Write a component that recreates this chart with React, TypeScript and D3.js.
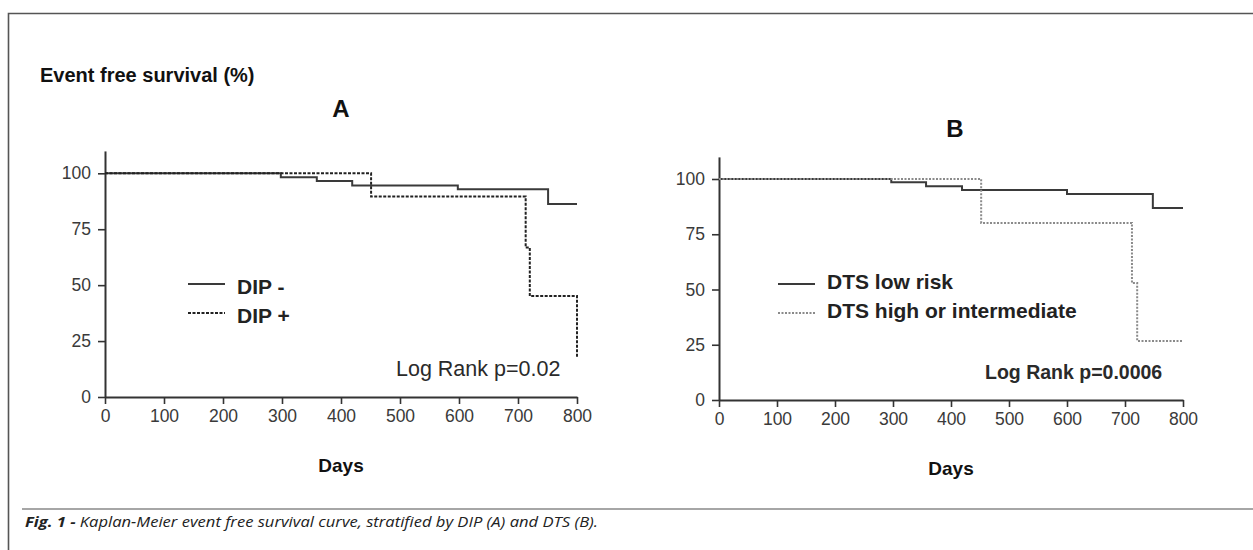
import React from "react";
import * as d3 from "d3";

// x / y ticks shared by both panels
const dayTicks = [0, 100, 200, 300, 400, 500, 600, 700, 800];
const survTicks = [0, 25, 50, 75, 100];

// panel A - DIP
const dipNegTime = [0, 298, 359, 419, 598, 751, 800];
const dipNegSurv = [100, 98.2, 96.6, 94.5, 92.9, 86.3, 86.3];
const dipPosTime = [0, 451, 713, 720, 800];
const dipPosSurv = [100, 89.6, 66.8, 45.1, 18];

// panel B - DTS
const dtsLowTime = [0, 297, 357, 419, 600, 748, 800];
const dtsLowSurv = [100, 98.5, 96.7, 95, 93.2, 86.9, 86.9];
const dtsHighTime = [0, 452, 712, 721, 800];
const dtsHighSurv = [100, 80.1, 52.9, 26.7, 26.7];

const FONT = "'Liberation Sans', Arial, Helvetica, sans-serif";

function drawPanel(svg, p) {
  const x = d3.scaleLinear().domain([0, 800]).range([p.x0, p.x1]);
  const y = d3.scaleLinear().domain([0, 110]).range([p.y0, p.y0 - p.pxPer100 * 1.1]);

  const g = svg.append("g");

  // y axis
  const yAxis = g.append("g")
    .attr("transform", `translate(${p.x0},0)`)
    .call(d3.axisLeft(y).tickValues(survTicks).tickSize(7).tickPadding(7).tickSizeOuter(0));
  // x axis
  const xAxis = g.append("g")
    .attr("transform", `translate(0,${p.y0})`)
    .call(d3.axisBottom(x).tickValues(dayTicks).tickSize(7).tickPadding(6).tickSizeOuter(0));

  [yAxis, xAxis].forEach(a => {
    a.select(".domain").attr("stroke", "#333").attr("stroke-width", 2);
    a.selectAll(".tick line").attr("stroke", "#333").attr("stroke-width", 1.6);
    a.selectAll(".tick text")
      .attr("fill", "#3a3a3a")
      .style("font-family", FONT)
      .style("font-size", "17.5px");
  });

  const line = d3.line()
    .x(d => x(d[0]))
    .y(d => y(d[1]))
    .curve(d3.curveStepAfter);

  p.series.forEach(s => {
    const pts = s.time.map((t, i) => [t, s.surv[i]]);
    g.append("path")
      .datum(pts)
      .attr("fill", "none")
      .attr("stroke", s.color)
      .attr("stroke-width", 2)
      .attr("stroke-dasharray", s.dash || null)
      .attr("d", line);
  });

  // legend
  p.series.forEach((s, i) => {
    const ly = p.legY + i * 29;
    g.append("line")
      .attr("x1", p.legX).attr("x2", p.legX + 37)
      .attr("y1", ly).attr("y2", ly)
      .attr("stroke", s.color)
      .attr("stroke-width", 2)
      .attr("stroke-dasharray", s.dash || null);
    g.append("text")
      .attr("x", p.legX + 49)
      .attr("y", ly + p.legDy)
      .attr("fill", "#222")
      .style("font-family", FONT)
      .style("font-weight", "bold")
      .style("font-size", "21px")
      .text(s.name);
  });

  // panel letter
  g.append("text")
    .attr("x", p.letterX).attr("y", p.letterY)
    .attr("text-anchor", "middle")
    .attr("fill", "#111")
    .style("font-family", FONT)
    .style("font-weight", "bold")
    .style("font-size", "24px")
    .text(p.letter);

  // log rank
  g.append("text")
    .attr("x", p.rankX).attr("y", p.rankY)
    .attr("fill", "#2a2a2a")
    .style("font-family", FONT)
    .style("font-weight", p.rankBold ? "bold" : "normal")
    .style("font-size", p.rankBold ? "19.5px" : "21.5px")
    .text(p.rank);

  // x title
  g.append("text")
    .attr("x", (p.x0 + p.x1) / 2).attr("y", p.y0 + 75)
    .attr("text-anchor", "middle")
    .attr("fill", "#111")
    .style("font-family", FONT)
    .style("font-weight", "bold")
    .style("font-size", "19px")
    .text("Days");
}

function drawChart(svgRef) {
  const svg = d3.select(svgRef.current);
  svg.selectAll("*").remove();

  // frame
  svg.append("path")
    .attr("d", "M8.5,550 L8.5,13.5 L1253,13.5")
    .attr("fill", "none")
    .attr("stroke", "#555")
    .attr("stroke-width", 1.6);
  svg.append("line")
    .attr("x1", 22).attr("x2", 1253)
    .attr("y1", 509).attr("y2", 509)
    .attr("stroke", "#888")
    .attr("stroke-width", 1.6);

  svg.append("text")
    .attr("x", 40).attr("y", 82)
    .attr("fill", "#111")
    .style("font-family", FONT)
    .style("font-weight", "bold")
    .style("font-size", "20px")
    .text("Event free survival (%)");

  drawPanel(svg, {
    x0: 105, x1: 577, y0: 397, pxPer100: 223.7,
    letter: "A", letterX: 341, letterY: 117,
    legX: 188, legY: 284, legDy: 10,
    rank: "Log Rank p=0.02", rankX: 396, rankY: 376, rankBold: false,
    series: [
      { name: "DIP -", time: dipNegTime, surv: dipNegSurv, color: "#3a3a3a" },
      { name: "DIP +", time: dipPosTime, surv: dipPosSurv, color: "#222", dash: "3,1.5" },
    ],
  });

  drawPanel(svg, {
    x0: 719, x1: 1183, y0: 400, pxPer100: 221,
    letter: "B", letterX: 955, letterY: 137,
    legX: 778, legY: 284, legDy: 5,
    rank: "Log Rank p=0.0006", rankX: 985, rankY: 379, rankBold: true,
    series: [
      { name: "DTS low risk", time: dtsLowTime, surv: dtsLowSurv, color: "#3a3a3a" },
      { name: "DTS high or intermediate", time: dtsHighTime, surv: dtsHighSurv, color: "#8a8a8a", dash: "2,1.5" },
    ],
  });

  // caption
  const cap = svg.append("text")
    .attr("x", 25).attr("y", 527)
    .attr("fill", "#222")
    .attr("textLength", 573)
    .attr("lengthAdjust", "spacingAndGlyphs")
    .style("font-family", "'Open Sans', Lato, sans-serif")
    .style("font-style", "italic")
    .style("font-size", "14px");
  cap.append("tspan").style("font-weight", "bold").text("Fig. 1 - ");
  cap.append("tspan").text("Kaplan-Meier event free survival curve, stratified by DIP (A) and DTS (B).");
}

export default function App() {
  const svg = React.useRef(null);

  React.useEffect(() => {
    drawChart(svg);
  }, []);

  return (
    <div style={{ position: "absolute", left: 0, top: 0 }}>
      <svg ref={svg} width={1253} height={550} style={{ display: "block", background: "#fff" }} />
    </div>
  );
}
